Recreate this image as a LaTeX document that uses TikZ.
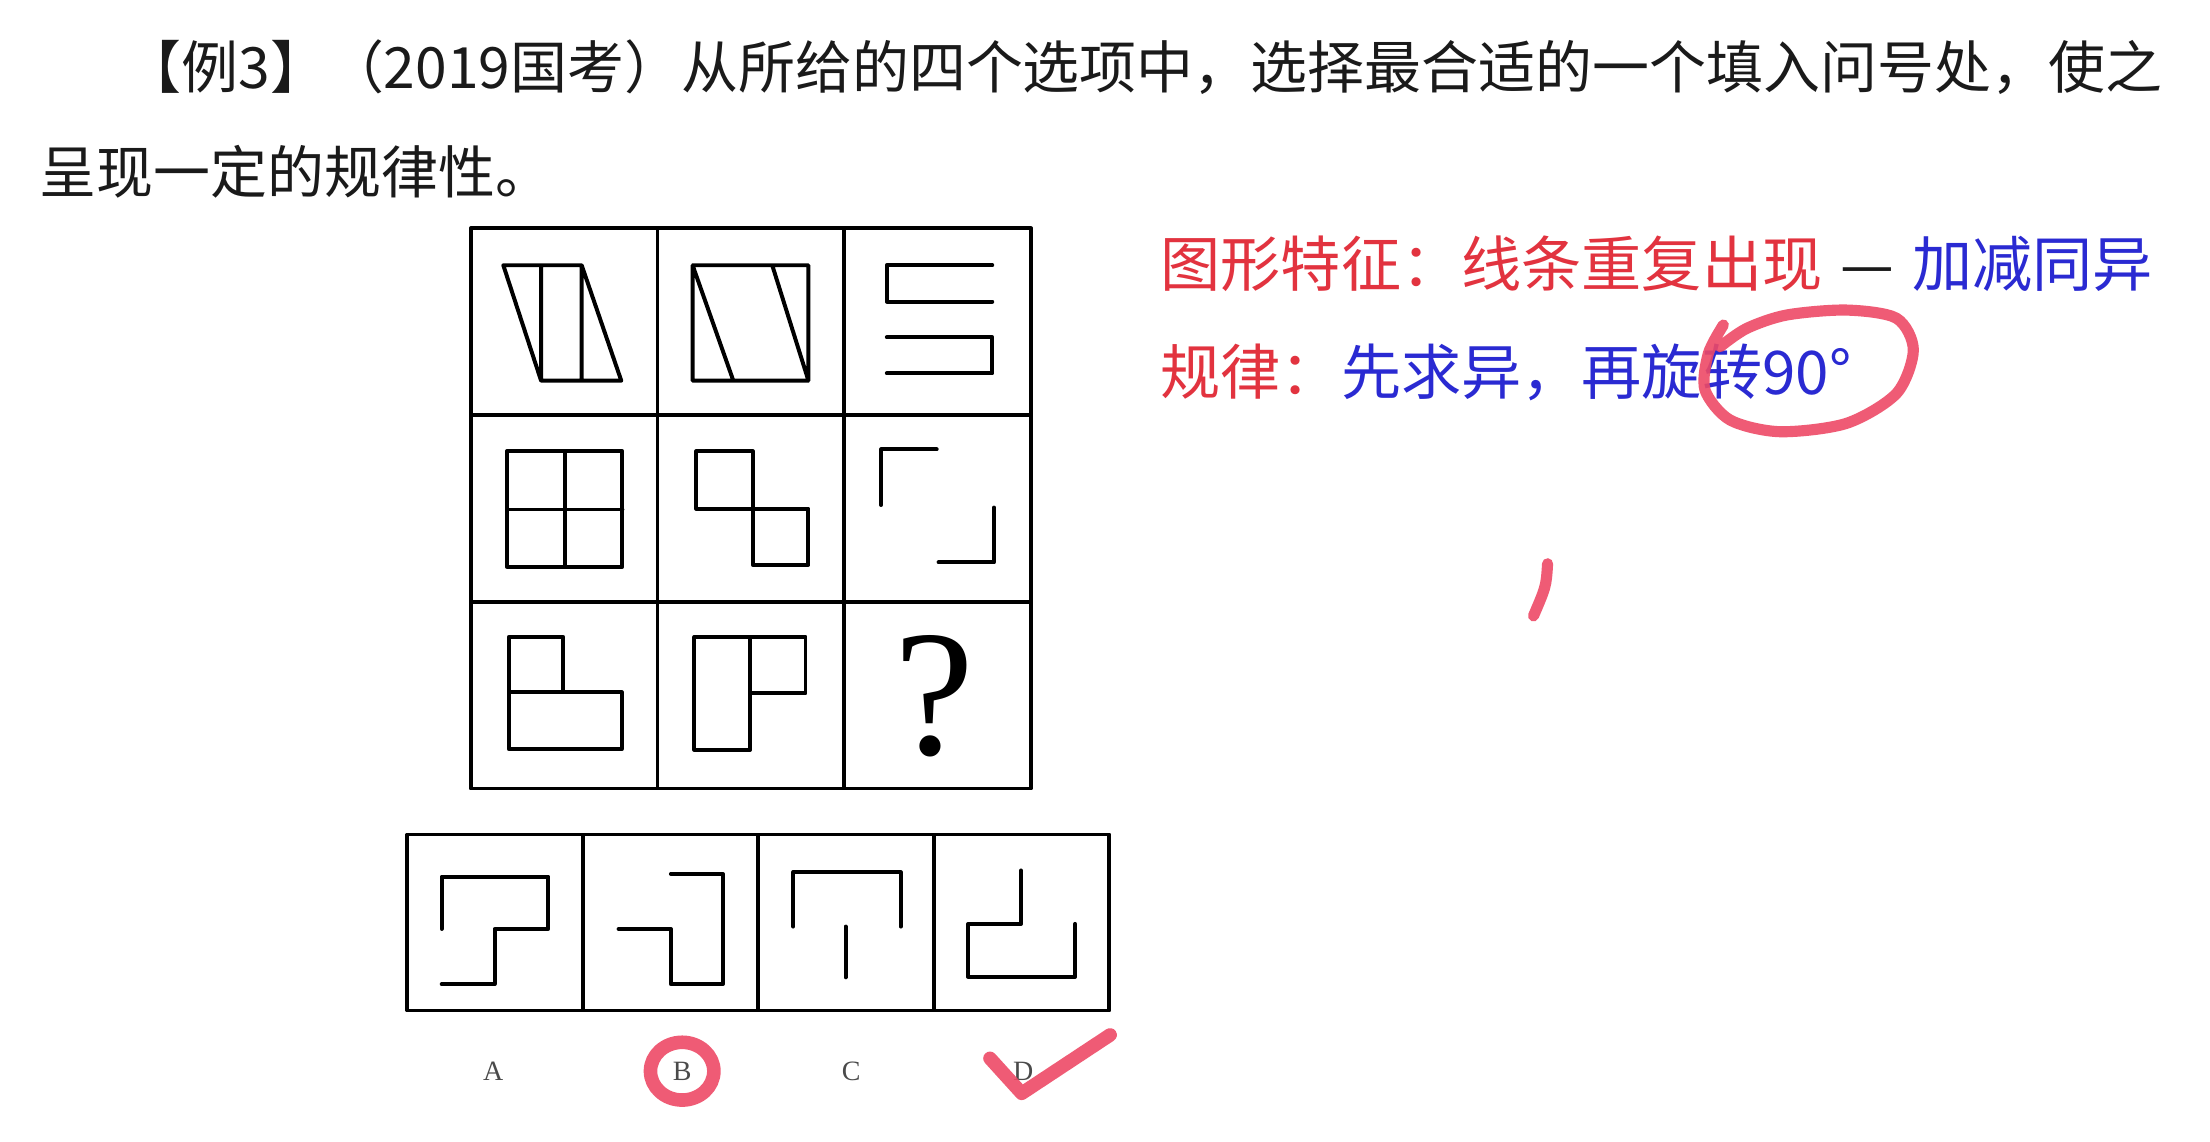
\documentclass[tikz,border=0pt]{standalone}
\usepackage{fontspec}
\setmainfont{Liberation Serif}
\newfontfamily\cjkfont{Noto Sans CJK SC}
\usepackage{xcolor}
\usetikzlibrary{positioning}
\definecolor{pzInk}{HTML}{1A1A1A}
\definecolor{pzRed}{HTML}{E2333F}
\definecolor{pzBlue}{HTML}{2A2AD2}
\definecolor{pzMark}{HTML}{EE4A66}
\definecolor{pzLabel}{HTML}{4A4A4A}
\tikzset{
  pz diagram/.style={x=0.02cm, y=-0.02cm, line cap=round, line join=round},
  pz frame/.style={draw=black, line width=1.5pt, line cap=rect},
  pz figure/.style={draw=black, line width=1.6pt},
  pz text/.style={inner sep=0pt, anchor=base west, text=pzInk,
    font=\cjkfont\fontsize{23}{27}\selectfont},
  pz note/.style={pz text, font=\cjkfont\fontsize{24.3}{28}\selectfont},
  pz letter/.style={inner sep=0pt, text=pzLabel, font=\fontsize{11.3}{13}\selectfont},
  pz mark/.style={draw=pzMark, line width=4.5pt, opacity=0.9}
}

\begin{document}
\begin{tikzpicture}[pz diagram]
\fill[white] (0,0) rectangle (1568,810);
\useasboundingbox (0,0) rectangle (1568,810);
% question
\node[pz text] (title) at (88,63) {【例3】（2019国考）从所给的四个选项中，选择最合适的一个填入问号处，使之};
\node[pz text] (title2) at (28,137) {呈现一定的规律性。};
% 3x3 grid
\draw[pz frame] (334,162) rectangle (731.5,559.5);
\foreach \i in {1,2} {
  \draw[pz frame] (334+132.5*\i,162) -- ++(0,397.5);
  \draw[pz frame] (334,162+132.5*\i) -- ++(397.5,0);
}
% row 1
\begin{scope}[shift={(334,162)}]
  \draw[pz figure] (23.1,26.2) -- (78.7,26.2) -- (106.8,108.1) -- (49.9,108.1) -- cycle
    (49.9,26.2) -- (49.9,108.1) (78.7,26.2) -- (78.7,108.1);
\end{scope}
\begin{scope}[shift={(466.5,162)}]
  \draw[pz figure] (24.9,26.2) rectangle (107.1,108.1)
    (24.9,26.2) -- (53.8,108.1) (81.4,26.2) -- (107.1,108.1);
\end{scope}
\begin{scope}[shift={(599,162)}]
  \draw[pz figure] (105,26.2) -- (30.2,26.2) -- (30.2,52) -- (105,52)
    (30.2,77.4) -- (105,77.4) -- (105,102.9) -- (30.2,102.9);
\end{scope}
% row 2
\begin{scope}[shift={(334,294.5)}]
  \draw[pz figure] (25.7,25.7) rectangle (107.6,107.6)
    (66.7,25.7) -- (66.7,107.6) (25.7,67) -- (107.6,67);
\end{scope}
\begin{scope}[shift={(466.5,294.5)}]
  \draw[pz figure] (27.6,25.7) rectangle (67.5,66.4) (67.5,66.4) rectangle (107.1,106.3);
\end{scope}
\begin{scope}[shift={(599,294.5)}]
  \draw[pz figure] (26.2,63.8) -- (26.2,24.4) -- (65.6,24.4)
    (106.3,65.6) -- (106.3,104.5) -- (66.9,104.5);
\end{scope}
% row 3
\begin{scope}[shift={(334,427)}]
  \draw[pz figure] (27,24.9) rectangle (65.6,64.3) (27,64.3) rectangle (107.1,104.5);
\end{scope}
\begin{scope}[shift={(466.5,427)}]
  \draw[pz figure] (26.2,24.9) rectangle (65.6,105) (65.6,24.9) rectangle (105,64.8);
\end{scope}
\node[inner sep=0pt, font=\fontsize{72.6}{80}\selectfont] (ask) at (663.3,494) {?};
% options
\draw[pz frame] (289,592) rectangle (787,717);
\foreach \i in {1,2,3}
  \draw[pz frame] (289+124.5*\i,592) -- ++(0,125);
\begin{scope}[shift={(289,592)}]
  \draw[pz figure] (24.4,67.1) -- (24.4,29.9) -- (100,29.9) -- (100,67.1) -- (61.9,67.1)
    -- (61.9,106.2) -- (24.4,106.2);
\end{scope}
\begin{scope}[shift={(413.5,592)}]
  \draw[pz figure] (25.4,67.1) -- (62.5,67.1) -- (62.5,106.2) -- (99.3,106.2) -- (99.3,28)
    -- (62.5,28);
\end{scope}
\begin{scope}[shift={(538,592)}]
  \draw[pz figure] (24.8,65.4) -- (24.8,26.8) -- (101,26.8) -- (101,65.4)
    (61.9,65.4) -- (61.9,101.4);
\end{scope}
\begin{scope}[shift={(662.5,592)}]
  \draw[pz figure] (61.9,25.6) -- (61.9,63.5) -- (24.4,63.5) -- (24.4,101) -- (100.3,101)
    -- (100.3,63.5);
\end{scope}
\foreach \x/\t in {350/A,484/B,604/C,726/D}
  \node[pz letter] (opt\t) at (\x,760) {\t};
% notes
\node[pz note] (feature) at (823,203) {\textcolor{pzRed}{图形特征：线条重复出现}\hspace{0.3em}—\hspace{0.3em}\textcolor{pzBlue}{加减同异}};
\node[pz note] (rule) at (823,280) {\textcolor{pzRed}{规律：}\textcolor{pzBlue}{先求异，再旋转90°}};
% red pen marks
\draw[pz mark, line width=5.5pt] (optB) ellipse [x radius=0.45cm, y radius=0.41cm];
\draw[pz mark, line width=5.5pt] (702.4,750.9) -- (724.9,775.7) -- (787.6,734.3);
\draw[pz mark] plot[smooth] coordinates {(1222.7,230.6) (1212.1,250.7) (1209.7,276.7)
  (1227.5,298) (1262.9,306.3) (1310.3,300.3) (1345.7,279) (1357.5,248.3) (1345.7,225.9)
  (1310.3,220) (1267.7,223.5) (1239.3,233) (1220.4,246)};
\draw[pz mark] (1098,400) .. controls (1097,416) .. (1088,437);
\end{tikzpicture}
\end{document}
